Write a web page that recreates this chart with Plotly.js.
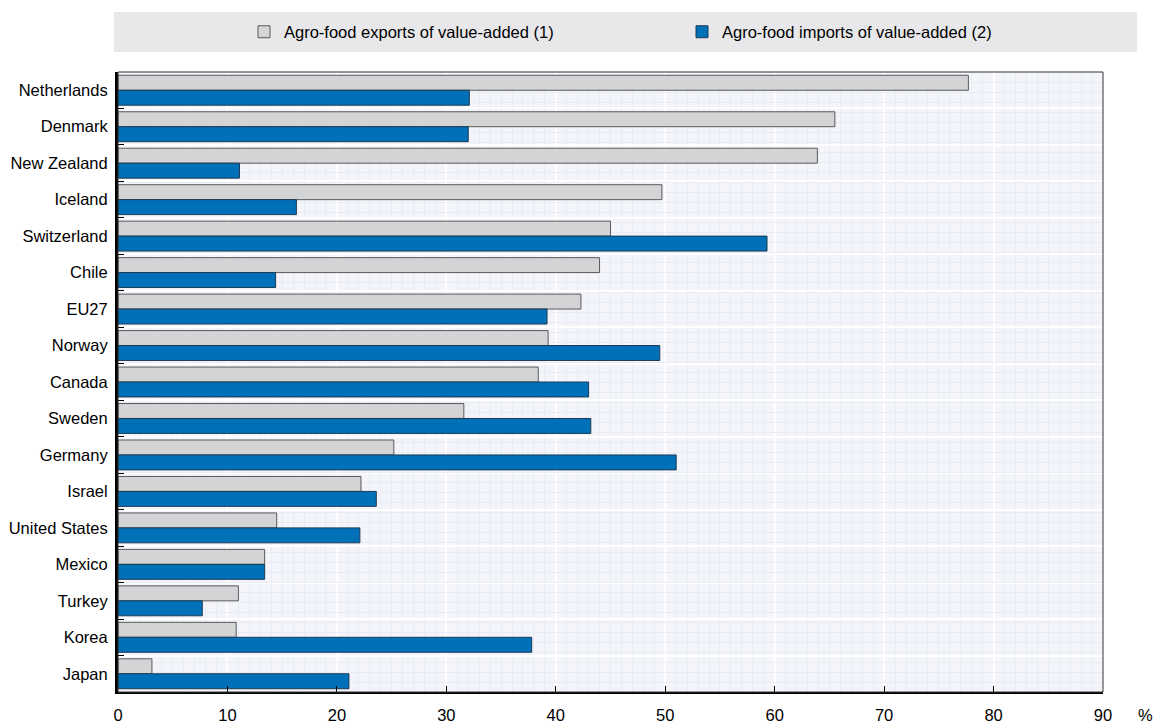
<!DOCTYPE html>
<html>
<head>
<meta charset="utf-8">
<script src="https://cdn.plot.ly/plotly-3.0.1.min.js"></script>
<style>html,body{margin:0;padding:0;background:#fff;}#chart{width:1153px;height:725px;}</style>
</head>
<body>
<div id="chart"></div>
<script>
const countries = ["Netherlands","Denmark","New Zealand","Iceland","Switzerland","Chile","EU27","Norway","Canada","Sweden","Germany","Israel","United States","Mexico","Turkey","Korea","Japan"];
const exportsVA = [77.7, 65.5, 63.9, 49.7, 45.0, 44.0, 42.3, 39.3, 38.4, 31.6, 25.2, 22.2, 14.5, 13.4, 11.0, 10.8, 3.1];
const importsVA = [32.1, 32.0, 11.1, 16.3, 59.3, 14.4, 39.2, 49.5, 43.0, 43.2, 51.0, 23.6, 22.1, 13.4, 7.7, 37.8, 21.1];
const seriesNames = ["Agro-food exports of value-added (1)", "Agro-food imports of value-added (2)"];
const xTicks = [0,10,20,30,40,50,60,70,80,90];

const FONT = "Liberation Sans, Arial, sans-serif";
const traces = [
  {type:"bar", orientation:"h", name:seriesNames[0], y:countries, x:exportsVA, legend:"legend",
   marker:{color:"#d3d4d6", line:{color:"#5a5a5a", width:1}}},
  {type:"bar", orientation:"h", name:seriesNames[1], y:countries, x:importsVA, legend:"legend2",
   marker:{color:"#0070b8", line:{color:"#1d3a56", width:1}}},
  // invisible helper trace carrying the fine horizontal background grid
  {type:"scatter", x:[0], y:[0], yaxis:"y2", mode:"markers", marker:{opacity:0}, showlegend:false, hoverinfo:"skip"}
];
const legendCommon = {orientation:"h", y:1.0645, yanchor:"middle", xanchor:"left",
  bgcolor:"rgba(0,0,0,0)", borderwidth:0, font:{family:FONT, size:16.5, color:"#000"},
  itemclick:false, itemdoubleclick:false};
const layout = {
  width:1153, height:725,
  margin:{l:118, r:50, t:72, b:33, pad:0, autoexpand:false},
  paper_bgcolor:"#ffffff", plot_bgcolor:"#f3f5fa",
  font:{family:FONT, size:16.5, color:"#000"},
  barmode:"group", bargap:0.18, bargroupgap:0,
  showlegend:true,
  legend:Object.assign({}, legendCommon, {x:(244-118)/985}),
  legend2:Object.assign({}, legendCommon, {x:(682-118)/985}),
  xaxis:{range:[0,90], tickvals:xTicks, ticks:"inside", ticklen:6, tickcolor:"#000", tickwidth:1,
         showline:true, linecolor:"#000", linewidth:2, mirror:false,
         showgrid:true, gridcolor:"#ffffff", gridwidth:2, zeroline:false,
         minor:{dtick:1, showgrid:true, gridcolor:"#e9ecf4", gridwidth:1},
         ticklabelstandoff:7, tickfont:{size:16.5, family:FONT}, fixedrange:true},
  yaxis:{type:"category", autorange:"reversed", ticks:"inside", ticklen:6, tickcolor:"#000",
         tickson:"boundaries", showline:true, linecolor:"#000", linewidth:3,
         showgrid:true, gridcolor:"#ffffff", gridwidth:2, zeroline:false,
         ticklabelstandoff:4, tickfont:{size:16.5, family:FONT}, fixedrange:true},
  yaxis2:{overlaying:"y", range:[0,62], dtick:1, showticklabels:false, ticks:"",
          showgrid:true, gridcolor:"#e9ecf4", gridwidth:1, zeroline:false, showline:false, fixedrange:true},
  shapes:[
    {type:"rect", xref:"paper", yref:"paper", x0:-0.0041, x1:1.0345, y0:1.0323, y1:1.0968,
     fillcolor:"#e8e8ea", line:{width:0}, layer:"below"},
    {type:"rect", xref:"paper", yref:"paper", x0:0, x1:1, y0:0, y1:1,
     fillcolor:"rgba(0,0,0,0)", line:{color:"#333", width:1}, layer:"above"}
  ],
  annotations:[
    {text:"%", xref:"paper", yref:"paper", x:(1136-118)/985, y:-23/620, xanchor:"left", yanchor:"middle",
     showarrow:false, font:{family:FONT, size:16.5, color:"#000"}}
  ]
};
Plotly.newPlot("chart", traces, layout, {displayModeBar:false, staticPlot:true});
</script>
</body>
</html>
